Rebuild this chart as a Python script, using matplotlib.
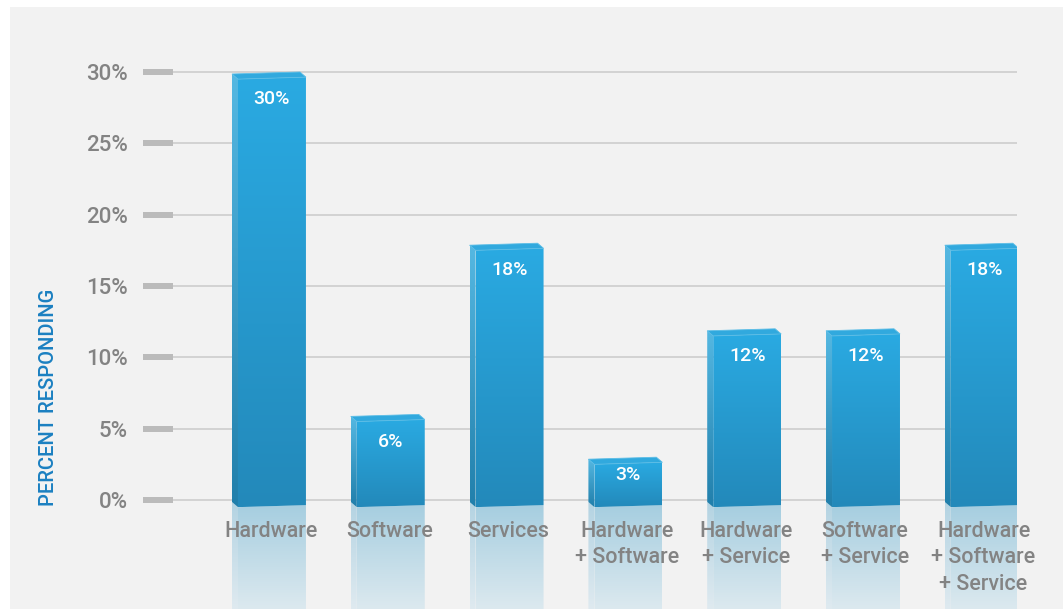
import numpy as np
import matplotlib
matplotlib.use("Agg")
import matplotlib.pyplot as plt
from matplotlib.patches import Polygon, Rectangle
from matplotlib.colors import to_rgb

# Data
categories = ["Hardware", "Software", "Services", "Hardware\n+ Software",
              "Hardware\n+ Service", "Software\n+ Service",
              "Hardware\n+ Software\n+ Service"]
values = [30, 6, 18, 3, 12, 12, 18]
value_labels = ["30%", "6%", "18%", "3%", "12%", "12%", "18%"]
yticks = [0, 5, 10, 15, 20, 25, 30]
ytick_labels = ["0%", "5%", "10%", "15%", "20%", "25%", "30%"]

W, H = 1063, 609
fig = plt.figure(figsize=(W / 100, H / 100), dpi=100, facecolor="white")
fig.patches.append(Rectangle((10 / W, 0), 1, 1 - 7 / H, transform=fig.transFigure,
                             facecolor="#f2f2f2", edgecolor="none", zorder=-10))

FONT = ["Roboto", "DejaVu Sans"]
GRAY = "#838383"

ax = fig.add_axes([173 / W, 0, (1017 - 173) / W, 1 - 7 / H])
ax.set_facecolor("none")
for s in ax.spines.values():
    s.set_visible(False)

px_per_pct = 428 / 30.0
ymin = -(609 - 500) / px_per_pct
ymax = (500 - 7) / px_per_pct
xmin, xmax = -0.833, 6.271


def gradient(poly, c_top, c_bot, y_top, y_bot, z):
    """Fill a polygon with a vertical linear gradient."""
    patch = Polygon(poly, closed=True, facecolor="none", edgecolor="none")
    ax.add_patch(patch)
    t = np.linspace(0, 1, 256)[:, None]
    a, b = np.array(to_rgb(c_top)), np.array(to_rgb(c_bot))
    img = (a[None, :] * (1 - t) + b[None, :] * t)[:, None, :]
    xs = [p[0] for p in poly]
    im = ax.imshow(img, extent=[min(xs), max(xs), y_bot, y_top], origin="upper",
                   aspect="auto", interpolation="bilinear", zorder=z)
    im.set_clip_path(patch)


hw = 0.286      # half width of the front face
d = 0.0505      # depth of the side face (x units)
h = 0.36        # depth of the side face (percent units)
lo_l, lo_r = -0.50, -0.36   # front bottom edge, left/right
top_l, top_r = -0.50, -0.36  # front top offsets, left/right

for i, v in enumerate(values):
    c = i
    L, R = c - hw, c + hw
    # front face
    front = [(L, lo_l), (R, lo_r), (R, v + top_r), (L, v + top_l)]
    gradient(front, "#2aaae2", "#2389ba", v + top_r, lo_l, 3)
    # left side face
    side = [(L - d, lo_l + h), (L, lo_l), (L, v + top_l), (L - d, v + top_l + h)]
    gradient(side, "#55b8e2", "#217fab", v + top_l + h, lo_l, 3)
    # top face
    top = [(L, v + top_l), (R, v + top_r), (R - d, v + top_r + h), (L - d, v + top_l + h)]
    ax.add_patch(Polygon(top, closed=True, facecolor="#31a9de", edgecolor="#5bbde6",
                         linewidth=0.6, zorder=4))
    # reflection
    refl = [(L, lo_l), (R, lo_r), (R, ymin - 1), (L, ymin - 1)]
    gradient(refl, "#a6cee0", "#dce9ef", lo_r, ymin, 1)
    refl_side = [(L - d, lo_l + h), (L, lo_l), (L, ymin - 1), (L - d, ymin - 1)]
    gradient(refl_side, "#b3d3e2", "#dfeaf0", lo_l + h, ymin, 1)
    # value label
    off = min(1.9, 0.42 * v)
    ax.text(c, v - off, value_labels[i], ha="center", va="center", color="white",
            fontsize=14, family=FONT, fontweight="medium", zorder=6)
    # category label
    ax.text(c - 0.01, -1.45, categories[i], ha="center", va="top", color=GRAY,
            fontsize=15.5, family=FONT, fontweight="medium", linespacing=1.36,
            zorder=7)

ax.set_xlim(xmin, xmax)
ax.set_ylim(ymin, ymax)
ax.set_xticks([])
ax.set_yticks(yticks)
ax.set_yticklabels(ytick_labels, family=FONT, fontweight="medium")
ax.tick_params(axis="y", length=30 * 0.72, width=6 * 0.72, color="#bbbbbb",
               pad=15 * 0.72, labelsize=16, labelcolor=GRAY)
ax.grid(axis="y", color="#d0d0d0", linewidth=1.3, zorder=0)
ax.set_axisbelow(True)

fig.text(49 / W, 1 - 397 / H, "PERCENT RESPONDING", rotation=90, ha="center",
         va="center", color="#1b80c1", fontsize=14.5, family=FONT, fontweight="medium")

fig.savefig("out.png", dpi=100, facecolor="white")
